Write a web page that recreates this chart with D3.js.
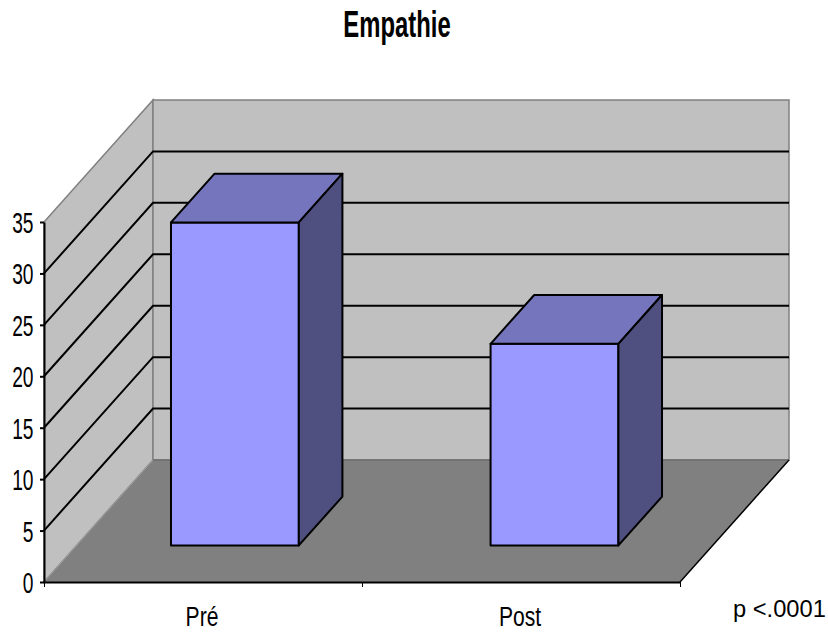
<!DOCTYPE html>
<html><head><meta charset="utf-8">
<script src="https://cdn.jsdelivr.net/npm/d3@7"></script>
<style>html,body{margin:0;background:#fff}svg{display:block}text{font-family:"Liberation Sans",Arial,sans-serif;fill:#000}</style>
</head><body><div id="c"></div>
<script>
const categories = ["Pré", "Post"];
const values = [31.4, 19.6];
const yTicks = [0, 5, 10, 15, 20, 25, 30, 35];
const title = "Empathie";
const note = "p <.0001";

const W = 828, H = 632;
const svg = d3.select("#c").append("svg").attr("width", W).attr("height", H);
const y = d3.scaleLinear().domain([0, 35]).range([582, 222]);
const x = d3.scaleBand().domain(categories).range([44, 680]).paddingInner(0.6).paddingOuter(0.295);
const band = d3.scaleBand().domain(categories).range([44, 680]);
const dx = d3.scaleLinear().domain([0, 1]).range([0, 109]);
const dy = d3.scaleLinear().domain([0, 1]).range([0, -122]);
const P = (px, py, d) => [px + dx(d), py + dy(d)];
const poly = pts => "M" + pts.map(p => p.join(",")).join("L") + "Z";
const x0 = 44, x1 = 680;

// walls and floor
svg.append("path").attr("d", poly([P(x0, y(0), 0), P(x0, y(0), 1), P(x0, y(35), 1), P(x0, y(35), 0)]))
  .attr("fill", "#c0c0c0").attr("stroke", "#808080").attr("stroke-width", 1.5);
svg.append("path").attr("d", poly([P(x0, y(0), 1), P(x1, y(0), 1), P(x1, y(35), 1), P(x0, y(35), 1)]))
  .attr("fill", "#c0c0c0").attr("stroke", "#808080").attr("stroke-width", 1.5);

// gridlines
svg.append("g").selectAll("path").data(yTicks.filter(t => t > 0 && t < 35)).join("path")
  .attr("d", t => d3.line()([P(x0, y(t), 0), P(x0, y(t), 1), P(x1, y(t), 1)]))
  .attr("fill", "none").attr("stroke", "#000").attr("stroke-width", 2);

// floor
svg.append("path").attr("d", poly([P(x0, y(0), 0), P(x1, y(0), 0), P(x1, y(0), 1), P(x0, y(0), 1)]))
  .attr("fill", "#808080");
svg.append("path").attr("d", d3.line()([P(x0, y(0), 1), P(x1, y(0), 1)])).attr("stroke", "#6e6e6e").attr("stroke-width", 1.5);
svg.append("path").attr("d", d3.line()([P(x0, y(0), 0), P(x0, y(0), 1)])).attr("stroke", "#a0a0a0").attr("stroke-width", 1);
svg.append("path").attr("d", d3.line()([P(x1, y(0), 0), P(x1, y(0), 1)])).attr("stroke", "#000").attr("stroke-width", 1.5);

// bars
const d0 = 0.3, d1 = 0.7;
const bars = svg.append("g").selectAll("g").data(categories.map((c, i) => ({ c, v: values[i] }))).join("g")
  .attr("stroke", "#000").attr("stroke-width", 2).attr("stroke-linejoin", "round");
const base = 0, left = d => x(d.c), right = d => x(d.c) + x.bandwidth();
bars.append("path").attr("fill", "#9999ff").attr("d", d => poly([
  P(left(d), y(base), d0), P(right(d), y(base), d0), P(right(d), y(d.v), d0), P(left(d), y(d.v), d0)]));
bars.append("path").attr("fill", "#7575bd").attr("d", d => poly([
  P(left(d), y(d.v), d0), P(right(d), y(d.v), d0), P(right(d), y(d.v), d1), P(left(d), y(d.v), d1)]));
bars.append("path").attr("fill", "#4f4f80").attr("d", d => poly([
  P(right(d), y(base), d0), P(right(d), y(base), d1), P(right(d), y(d.v), d1), P(right(d), y(d.v), d0)]));

// axes
const yAxis = svg.append("g").attr("transform", `translate(${x0},0)`)
  .call(d3.axisLeft(y).tickValues(yTicks).tickSize(4).tickSizeOuter(0).tickFormat(() => ""));
const xEdge = d3.scaleLinear().domain([0, categories.length]).range([x0, x1]);
const xAxis = svg.append("g").attr("transform", `translate(0,${y(0)})`)
  .call(d3.axisBottom(xEdge).tickValues(d3.range(categories.length + 1)).tickSize(5).tickSizeOuter(0).tickFormat(() => ""));
[yAxis, xAxis].forEach(a => a.selectAll("path,line").attr("stroke", "#000").attr("stroke-width", 2));
xAxis.selectAll("line").attr("stroke-width", 1);

// condensed text helper
const cond = (tx, ty, s, size, sx, anchor, weight) => svg.append("text")
  .attr("transform", `translate(${tx},${ty}) scale(${sx},1)`)
  .attr("text-anchor", anchor).attr("font-size", size).attr("font-weight", weight || "normal").text(s);

yTicks.forEach(t => cond(33.5, y(t) + 11, String(t), 30, 0.64, "end"));
categories.forEach(c => cond(band(c) + band.bandwidth() / 2 - 1, 626, c, 28.5, 0.74, "middle"));
cond(397, 37, title, 37, 0.645, "middle", "bold");
cond(733, 617, note, 23, 1.03, "start");
</script></body></html>
